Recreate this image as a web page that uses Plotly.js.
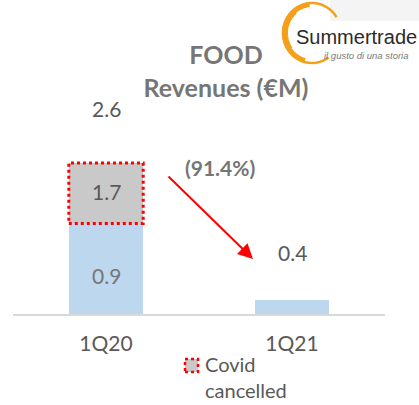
<!DOCTYPE html>
<html>
<head>
<meta charset="utf-8">
<script src="https://cdn.plot.ly/plotly-3.0.1.min.js"></script>
<style>html,body{margin:0;padding:0;background:#fff;}#chart{width:419px;height:405px;}</style>
</head>
<body>
<div id="chart"></div>
<script>
// ---- data ----
var categories = ['1Q20', '1Q21'];
// values printed on the chart (€M)
var baseLabels = [0.9, 0.4];
var covidLabels = [1.7];
var totalLabels = [2.6];
var changeLabel = '(91.4%)';
// bar heights as drawn in the reference (the infographic is not to scale)
var baseBarHeights = [0.9, 0.135];
var covidBarHeights = [0.6];
var covidCategories = ['1Q20'];
var legendLabel = ['Covid', 'cancelled'];

// ---- layout helpers ----
var W = 419, H = 405;
var M = {l: 13, r: 34, t: 12, b: 91};
var PL = M.l, PR = W - M.r, PT = M.t, PB = H - M.b;
function px(x) { return (x - PL) / (PR - PL); }
function py(y) { return (PB - y) / (PB - PT); }

var blue = '#bdd7ee', grey = '#c9c9c9', red = '#ff0000';
var darkTxt = '#595959', midTxt = '#767676';
var F = 'Lato, "Open Sans", sans-serif';

var traces = [
  {type: 'bar', x: categories, y: baseBarHeights, marker: {color: blue, line: {width: 0}},
   hoverinfo: 'skip', showlegend: false},
  {type: 'bar', x: covidCategories, y: covidBarHeights, marker: {color: grey, line: {width: 0}},
   hoverinfo: 'skip', showlegend: false, name: legendLabel.join(' ')}
];

var barW = 0.4;
var shapes = [];
// dotted border of the covid-cancelled segment
covidCategories.forEach(function (c, i) {
  var k = categories.indexOf(c);
  shapes.push({type: 'rect', xref: 'x', yref: 'y', x0: k - barW / 2, x1: k + barW / 2,
    y0: baseBarHeights[k], y1: baseBarHeights[k] + covidBarHeights[i],
    line: {color: red, width: 3, dash: 'dot'}, fillcolor: 'rgba(0,0,0,0)'});
});
// legend swatch
shapes.push({type: 'rect', xref: 'paper', yref: 'paper', x0: px(185), x1: px(198), y0: py(372), y1: py(359),
  fillcolor: grey, line: {color: red, width: 2.5, dash: 'dot'}});
// logo background + swirl
shapes.push({type: 'rect', xref: 'paper', yref: 'paper', x0: px(330), x1: px(420), y0: py(21), y1: py(-1),
  fillcolor: '#f4f4f4', line: {width: 0}, layer: 'below'});
function arcPath(cx, cy, rx, ry, a0, a1) {
  var d = '', n = 40;
  for (var i = 0; i <= n; i++) {
    var a = (a0 + (a1 - a0) * i / n) * Math.PI / 180;
    var X = px(cx + rx * Math.cos(a)), Y = py(cy - ry * Math.sin(a));
    d += (i ? 'L' : 'M') + X.toFixed(5) + ',' + Y.toFixed(5);
  }
  return d;
}
var orange = '#f5a01a';
shapes.push({type: 'path', xref: 'paper', yref: 'paper', path: arcPath(312, 33, 29, 30, 32, 305),
  line: {color: orange, width: 2.5}});
shapes.push({type: 'path', xref: 'paper', yref: 'paper', path: arcPath(312, 33, 27.5, 28.5, 95, 255),
  line: {color: orange, width: 5}});
shapes.push({type: 'path', xref: 'paper', yref: 'paper', path: arcPath(312, 33, 25.5, 26.5, 130, 215),
  line: {color: orange, width: 3}});

var annotations = [];
function lab(o) { o.showarrow = false; o.yanchor = o.yanchor || 'middle'; o.xanchor = o.xanchor || 'center'; annotations.push(o); }
// totals / segment labels
lab({xref: 'x', yref: 'y', x: categories[0], y: baseBarHeights[0] + covidBarHeights[0],
  yshift: 55, text: totalLabels[0].toFixed(1), font: {family: F, size: 21, color: darkTxt}});
lab({xref: 'x', yref: 'y', x: categories[0], y: baseBarHeights[0] + covidBarHeights[0] / 2, yshift: 2,
  text: covidLabels[0].toFixed(1), font: {family: F, size: 21, color: darkTxt}});
lab({xref: 'x', yref: 'y', x: categories[0], y: baseBarHeights[0] / 2, yshift: -7,
  text: baseLabels[0].toFixed(1), font: {family: F, size: 21, color: midTxt}});
lab({xref: 'x', yref: 'y', x: categories[1], y: baseBarHeights[1], yshift: 48,
  text: baseLabels[1].toFixed(1), font: {family: F, size: 21, color: darkTxt}});
// change label + arrow
lab({xref: 'paper', yref: 'paper', x: px(220), y: py(167), text: '<b>' + changeLabel + '</b>',
  font: {family: F, size: 21, color: midTxt}});
annotations.push({xref: 'paper', yref: 'paper', x: px(253), y: py(259), ax: -86, ay: -84, text: '',
  showarrow: true, arrowhead: 2, arrowsize: 1.5, arrowwidth: 2, arrowcolor: red});
// legend text
lab({xref: 'paper', yref: 'paper', x: px(203), y: py(364), xanchor: 'left', text: legendLabel[0],
  font: {family: F, size: 20, color: darkTxt}});
lab({xref: 'paper', yref: 'paper', x: px(203), y: py(390), xanchor: 'left', text: legendLabel[1],
  font: {family: F, size: 20, color: darkTxt}});
// logo text
lab({xref: 'paper', yref: 'paper', x: px(294), y: py(37), xanchor: 'left', text: 'Summertrade',
  font: {family: '"Liberation Sans", Arial, sans-serif', size: 20, color: '#2b2b2b'}});
lab({xref: 'paper', yref: 'paper', x: px(322), y: py(56), xanchor: 'left', text: '<i>il gusto di una storia</i>',
  font: {family: '"Liberation Sans", Arial, sans-serif', size: 9.5, color: '#7a7a7a'}});

var layout = {
  width: W, height: H, margin: M, paper_bgcolor: '#fff', plot_bgcolor: '#fff',
  title: {text: '<b>FOOD</b><br><b>Revenues (€M)</b>', font: {family: F, size: 25, color: midTxt},
    x: 226 / W, xanchor: 'center', xref: 'container', y: 1 - 64 / H, yanchor: 'top', yref: 'container'},
  barmode: 'stack', bargap: 1 - barW, showlegend: false,
  xaxis: {type: 'category', range: [-0.5, 1.5], showline: true, linecolor: '#d9d9d9', linewidth: 2,
    showgrid: false, zeroline: false, ticks: '', ticklabelstandoff: 10,
    tickfont: {family: F, size: 21, color: darkTxt}, fixedrange: true},
  yaxis: {range: [0, 3], visible: false, fixedrange: true},
  shapes: shapes, annotations: annotations
};
Plotly.newPlot('chart', traces, layout, {displayModeBar: false, staticPlot: true});
</script>
</body>
</html>
